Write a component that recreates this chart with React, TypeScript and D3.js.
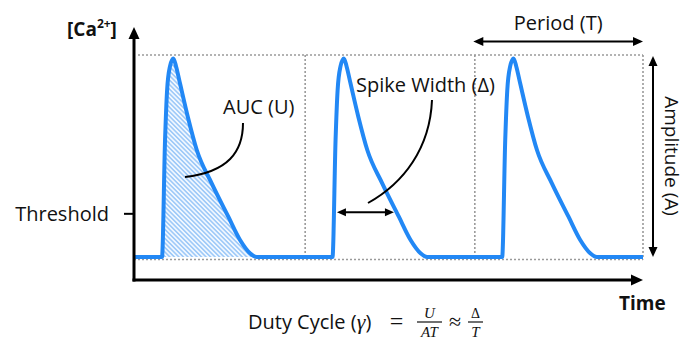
import * as d3 from "d3";
import * as React from "react";
import { useEffect, useRef } from "react";

// calcium trace, three spikes (time in arbitrary units, level normalised to amplitude)
const traceTime = [
    0, 1.65, 1.83, 1.95, 2.12, 2.32, 2.48, 2.71, 3.17, 3.7, 4.58, 5.56, 6.25, 6.84, 7.23,
    11.7, 11.88, 12.0, 12.17, 12.37, 12.53, 12.76, 13.22, 13.75, 14.63, 15.61, 16.3, 16.89, 17.28,
    21.7, 21.88, 22.0, 22.17, 22.37, 22.53, 22.76, 23.22, 23.75, 24.63, 25.61, 26.3, 26.89, 27.28, 30,
];
const traceLevel = [
    0, 0, 0.59, 0.84, 0.96, 1, 0.96, 0.875, 0.707, 0.539, 0.371, 0.203, 0.086, 0.019, 0,
    0, 0.59, 0.84, 0.96, 1, 0.96, 0.875, 0.707, 0.539, 0.371, 0.203, 0.086, 0.019, 0,
    0, 0.59, 0.84, 0.96, 1, 0.96, 0.875, 0.707, 0.539, 0.371, 0.203, 0.086, 0.019, 0, 0,
];
const periodBounds = [10, 20, 30];
const firstSpike = [1.65, 7.23];
const spikeWidthSpan = [11.96, 15.32];
const thresholdLevel = 0.22;
const thresholdLabel = "Threshold";

const blue = "#2288f5";
const dotted = "#9a9a9a";
const sans = "'Open Sans', 'Noto Sans', sans-serif";
const serif = "'Liberation Serif', serif";

function head(tx: number, ty: number, angle: number, len = 10, hw = 4.5) {
    // triangle with its tip at (tx, ty) pointing along angle
    const c = Math.cos(angle), s = Math.sin(angle);
    const bx = tx - len * c, by = ty - len * s;
    return `${tx},${ty} ${bx - hw * s},${by + hw * c} ${bx + hw * s},${by - hw * c}`;
}

export default function App() {
    const width = 687, height = 347;
    const axisRef = useRef<SVGGElement>(null);

    const x = d3.scaleLinear().domain([0, 30]).range([134, 643]);
    const y = d3.scaleLinear().domain([0, 1]).range([257, 58.5]);

    const pts = traceTime.map((t, i) => [t, traceLevel[i]] as [number, number]);
    const line = d3.line<[number, number]>()
        .x(d => x(d[0])).y(d => y(d[1]))
        .curve(d3.curveMonotoneX);
    const area = d3.area<[number, number]>()
        .x(d => x(d[0])).y0(y(0)).y1(d => y(d[1]))
        .curve(d3.curveMonotoneX);
    const spike1 = pts.filter(d => d[0] >= firstSpike[0] && d[0] <= firstSpike[1]);

    useEffect(() => {
        const g = d3.select(axisRef.current!);
        g.selectAll("*").remove();
        g.call(d3.axisLeft(y)
            .tickValues([thresholdLevel])
            .tickFormat(() => thresholdLabel)
            .tickSize(10)
            .tickPadding(15))
            .call(g => g.select(".domain").remove())
            .call(g => g.selectAll("line").attr("stroke", "#000").attr("stroke-width", 2))
            .call(g => g.selectAll("text")
                .attr("font-family", sans).attr("font-size", 20).attr("fill", "#111").attr("dy", "0.38em"));
    }, []);

    const top = y(1) - 3.5;
    const base = y(0) + 2.5;
    const axisY = 280;
    const axisX = x(0);
    const thrY = y(thresholdLevel);

    return (
        <svg width={width} height={height} style={{ position: "absolute", left: 0, top: 0, background: "#fff" }}>
            <defs>
                <pattern id="hatch" patternUnits="userSpaceOnUse" width={3.2} height={3.2} patternTransform="rotate(45)">
                    <rect width={3.2} height={3.2} fill="#f2f8ff" />
                    <rect width={3.2} height={1.6} fill="#9fcaf8" />
                </pattern>
            </defs>

            {/* dotted guides */}
            <g stroke={dotted} strokeWidth={1.6} strokeDasharray="2,2" fill="none">
                <line x1={axisX + 4} x2={x(30)} y1={top} y2={top} />
                <line x1={axisX} x2={x(30)} y1={base} y2={base} />
                {periodBounds.map((p, i) => (
                    <line key={p} x1={x(p) + (i < 2 ? 1.5 : 0)} x2={x(p) + (i < 2 ? 1.5 : 0)} y1={top} y2={i < 2 ? y(0) - 4 : base} />
                ))}
            </g>

            {/* AUC hatch */}
            <path d={area(spike1)!} fill="url(#hatch)" />

            {/* trace */}
            <path d={line(pts)!} fill="none" stroke={blue} strokeWidth={4} strokeLinejoin="round" />

            {/* axes */}
            <g ref={axisRef} transform={`translate(${axisX},0)`} />
            <g fill="#000" stroke="#000">
                <line x1={axisX} x2={axisX} y1={axisY + 1.5} y2={38} strokeWidth={3} />
                <polygon points={head(axisX, 27, -Math.PI / 2, 12, 5.5)} stroke="none" />
                <line x1={axisX - 1.5} x2={x(30) - 11} y1={axisY} y2={axisY} strokeWidth={3} />
                <polygon points={head(x(30), axisY, 0, 12, 5.5)} stroke="none" />
            </g>

            {/* period arrow */}
            <g fill="#000" stroke="#000">
                <line x1={x(20) + 8} x2={x(30) - 8} y1={41.5} y2={41.5} strokeWidth={2} />
                <polygon points={head(x(20), 41.5, Math.PI)} stroke="none" />
                <polygon points={head(x(30), 41.5, 0)} stroke="none" />
            </g>
            <text x={(x(20) + x(30)) / 2} y={30} textAnchor="middle" fontFamily={sans} fontSize={20} fill="#111">Period (T)</text>

            {/* amplitude arrow */}
            <g fill="#000" stroke="#000">
                <line x1={653} x2={653} y1={top + 9} y2={y(0) - 9} strokeWidth={2} />
                <polygon points={head(653, top + 1, -Math.PI / 2)} stroke="none" />
                <polygon points={head(653, y(0), Math.PI / 2)} stroke="none" />
            </g>
            <text transform={`translate(665,${(top + y(0)) / 2}) rotate(90)`} textAnchor="middle" fontFamily={sans} fontSize={19} fill="#111">Amplitude (A)</text>

            {/* spike width arrow */}
            <g fill="#000" stroke="#000">
                <line x1={x(spikeWidthSpan[0]) + 7} x2={x(spikeWidthSpan[1]) - 7} y1={thrY - 1} y2={thrY - 1} strokeWidth={2} />
                <polygon points={head(x(spikeWidthSpan[0]), thrY - 1, Math.PI, 9, 4)} stroke="none" />
                <polygon points={head(x(spikeWidthSpan[1]), thrY - 1, 0, 9, 4)} stroke="none" />
            </g>

            {/* callouts */}
            <path d="M243,123 C243,152 228,172 185,177" fill="none" stroke="#000" strokeWidth={2} />
            <text x={223} y={114} fontFamily={sans} fontSize={20} fill="#111">AUC (U)</text>
            <path d="M432,100 C430,148 404,183 368,203" fill="none" stroke="#000" strokeWidth={2} />
            <text x={356} y={92} fontFamily={sans} fontSize={20} fill="#111">Spike Width (Δ)</text>

            {/* axis titles */}
            <text x={67} y={36} fontFamily={sans} fontSize={19} fontWeight="bold" fill="#111">
                [Ca<tspan fontSize={12} dy={-8}>2+</tspan><tspan dy={8}>]</tspan>
            </text>
            <text x={619} y={310} fontFamily={sans} fontSize={19} fontWeight="bold" fill="#111">Time</text>

            {/* duty cycle formula */}
            <g fill="#111">
                <text x={248} y={329} fontFamily={sans} fontSize={20}>
                    Duty Cycle (<tspan fontFamily={serif} fontStyle="italic" fontSize={22}>γ</tspan>)
                </text>
                <text x={396.5} y={329} textAnchor="middle" fontFamily={serif} fontSize={24}>=</text>
                <text x={429.5} y={318} textAnchor="middle" fontFamily={serif} fontStyle="italic" fontSize={15}>U</text>
                <line x1={417} x2={442} y1={322} y2={322} stroke="#111" strokeWidth={1.2} />
                <text x={429.5} y={337} textAnchor="middle" fontFamily={serif} fontStyle="italic" fontSize={15}>AT</text>
                <text x={455} y={329} textAnchor="middle" fontFamily={serif} fontSize={22}>≈</text>
                <text x={475.5} y={318} textAnchor="middle" fontFamily={serif} fontSize={14}>Δ</text>
                <line x1={468} x2={483} y1={322} y2={322} stroke="#111" strokeWidth={1.2} />
                <text x={475.5} y={337} textAnchor="middle" fontFamily={serif} fontStyle="italic" fontSize={15}>T</text>
            </g>
        </svg>
    );
}
